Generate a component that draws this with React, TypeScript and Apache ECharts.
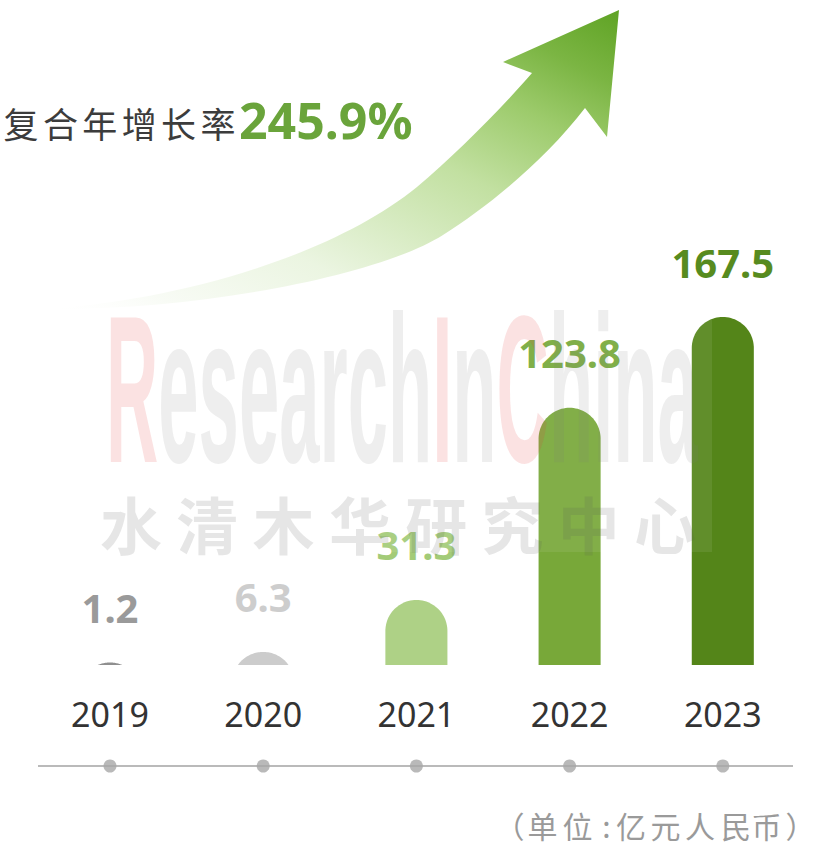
import React, { useEffect, useRef } from 'react';
import * as echarts from 'echarts';

// ---- data ----
const years = ['2019', '2020', '2021', '2022', '2023'];
const values = [1.2, 6.3, 31.3, 123.8, 167.5];
const barColors = ['#8f8f8f', '#cccccc', '#aed186', '#78a839', '#548519'];
const labelColors = ['#9a9a9a', '#cdcdcd', '#a3cb78', '#76a93a', '#578b1f'];
const cagrLabel = '复合年增长率';
const cagrValue = '245.9%';
const unitChars = ['（', '单', '位', ':', '亿', '元', '人', '民', '币', '）'];
const watermarkCn = '水清木华研究中心';

// ---- arrow shape (decoration) ----
const ARROW_D =
  'M 44 309 ' +
  'C 170 302, 330 258, 417 187 ' +
  'C 455 155, 500 110, 532 73 ' +
  'L 503 62 L 619 10 L 607 137 L 585 108 ' +
  'C 545 160, 490 205, 443 235 ' +
  'C 380 275, 200 311, 44 309 Z';
echarts.graphic.registerShape('growArrow', echarts.graphic.extendPath(ARROW_D, {}));

function barPoints(cx: number, top: number, bottom: number, r: number) {
  const pts: number[][] = [];
  const h = bottom - top;
  const cy = top + r;
  const N = 48;
  if (h >= r) {
    pts.push([cx - r, bottom]);
    for (let k = 0; k <= N; k++) {
      const a = Math.PI - (Math.PI * k) / N;
      pts.push([cx + r * Math.cos(a), cy - r * Math.sin(a)]);
    }
    pts.push([cx + r, bottom]);
  } else {
    const a0 = Math.asin(Math.max(-1, Math.min(1, (r - h) / r)));
    for (let k = 0; k <= N; k++) {
      const a = Math.PI - a0 - ((Math.PI - 2 * a0) * k) / N;
      pts.push([cx + r * Math.cos(a), cy - r * Math.sin(a)]);
    }
  }
  return pts;
}

export default function App() {
  const ref = useRef<HTMLDivElement>(null);
  useEffect(() => {
    if (!ref.current) return;
    const chart = echarts.init(ref.current, undefined, { renderer: 'svg' });

    const graphics: any[] = [];
    // arrow
    graphics.push({
      type: 'growArrow',
      z: 1,
      shape: {},
      style: {
        fill: new echarts.graphic.LinearGradient(0, 1, 1, 0, [
          { offset: 0, color: 'rgba(255,255,255,0)' },
          { offset: 0.12, color: '#f8fbf5' },
          { offset: 0.31, color: '#ebf5e1' },
          { offset: 0.59, color: '#c2e0a1' },
          { offset: 0.75, color: '#9dcb6c' },
          { offset: 0.87, color: '#7bb543' },
          { offset: 1, color: '#5fa324' },
        ]),
      },
    });
    // title
    cagrLabel.split('').forEach((ch, i) => {
      graphics.push({
        type: 'text',
        x: 21 + i * 39.4,
        y: 122,
        z: 5,
        style: {
          text: ch,
          fontSize: 35,
          fontFamily: 'Noto Sans CJK SC',
          fill: '#3c3c3c',
          align: 'center',
          verticalAlign: 'middle',
        },
      });
    });
    graphics.push({
      type: 'text',
      x: 239,
      y: 120,
      z: 5,
      style: {
        text: cagrValue,
        fontSize: 50,
        fontWeight: 'bold',
        fontFamily: 'Noto Sans',
        fill: '#6aa43b',
        align: 'left',
        verticalAlign: 'middle',
      },
    });
    // axis line
    graphics.push({
      type: 'line',
      z: 0,
      shape: { x1: 38, y1: 766, x2: 793, y2: 766 },
      style: { stroke: '#a3a3a3', lineWidth: 1.5 },
    });
    // unit text
    const unitX = [509.5, 542.5, 577.5, 606.5, 631, 665.5, 700, 736, 766.5, 800.5];
    unitChars.forEach((ch, i) => {
      graphics.push({
        type: 'text',
        x: unitX[i],
        y: 825,
        z: 5,
        style: {
          text: ch,
          fontSize: 30,
          fontFamily: 'Noto Sans CJK SC',
          fill: '#9a9a9a',
          align: 'center',
          verticalAlign: 'middle',
        },
      });
    });
    // watermark
    graphics.push({
      type: 'rect',
      z: 100,
      shape: { x: 100, y: 300, width: 612, height: 252 },
      style: { fill: 'rgba(255,255,255,0.08)' },
    });
    const wmFont = { fontSize: 210, fontWeight: 'bold', fontFamily: 'Liberation Sans' };
    graphics.push({
      type: 'text',
      x: 106,
      y: 389,
      scaleX: 0.345,
      z: 101,
      style: {
        text: '{r|R}{g|esearch}{r|I}{g|n}{r|C}{g|hina}',
        ...wmFont,
        align: 'left',
        verticalAlign: 'middle',
        rich: {
          r: { ...wmFont, fill: 'rgba(230,60,60,0.15)' },
          g: { ...wmFont, fill: 'rgba(120,120,120,0.13)' },
        },
      },
    });
    watermarkCn.split('').forEach((ch, i) => {
      graphics.push({
        type: 'text',
        x: 131 + i * 76.3,
        y: 523,
        z: 101,
        style: {
          text: ch,
          fontSize: 62,
          fontWeight: 'bold',
          fontFamily: 'Noto Sans CJK SC',
          fill: 'rgba(90,90,90,0.15)',
          align: 'center',
          verticalAlign: 'middle',
        },
      });
    });

    chart.setOption({
      animation: false,
      backgroundColor: '#ffffff',
      grid: [
        { left: 33.4, right: 14.6, top: 317, bottom: 194 },
        { left: 33.4, right: 14.6, top: 756, height: 20 },
      ],
      xAxis: [
        {
          type: 'category',
          gridIndex: 0,
          data: years,
          axisLine: { show: false },
          axisTick: { show: false },
          splitLine: { show: false },
          axisLabel: {
            fontSize: 34,
            color: '#333333',
            fontFamily: 'Noto Sans',
            margin: 32,
          },
        },
        { type: 'category', gridIndex: 1, data: years, show: false },
      ],
      yAxis: [
        { type: 'value', gridIndex: 0, min: 0, max: 'dataMax', show: false },
        { type: 'value', gridIndex: 1, min: -1, max: 1, show: false },
      ],
      series: [
        {
          type: 'custom',
          xAxisIndex: 0,
          yAxisIndex: 0,
          z: 3,
          data: values.map((v, i) => [i, v]),
          encode: { x: 0, y: 1 },
          renderItem: (params: any, api: any) => {
            const idx = params.dataIndex;
            const v = api.value(1);
            const topPt = api.coord([api.value(0), v]);
            const basePt = api.coord([api.value(0), 0]);
            const bandW = api.size([1, 0])[0];
            const r = (bandW * 0.405) / 2;
            const cx = topPt[0];
            const top = topPt[1];
            const bottom = basePt[1];
            return {
              type: 'group',
              children: [
                {
                  type: 'polygon',
                  shape: { points: barPoints(cx, top, bottom, r) },
                  style: { fill: barColors[idx] },
                },
                {
                  type: 'text',
                  x: cx,
                  y: top - 55,
                  style: {
                    text: String(values[idx]),
                    fontSize: 40,
                    fontWeight: 'bold',
                    fontFamily: 'Noto Sans',
                    fill: labelColors[idx],
                    align: 'center',
                    verticalAlign: 'middle',
                  },
                },
              ],
            };
          },
        },
        {
          type: 'scatter',
          xAxisIndex: 1,
          yAxisIndex: 1,
          symbol: 'circle',
          symbolSize: 13,
          itemStyle: { color: '#a8a8a8' },
          data: years.map((_, i) => [i, 0]),
          z: 4,
        },
      ],
      graphic: { elements: graphics },
    });
    return () => chart.dispose();
  }, []);
  return (
    <div
      ref={ref}
      style={{ position: 'fixed', left: 0, top: 0, width: 814, height: 859, background: '#fff' }}
    />
  );
}
